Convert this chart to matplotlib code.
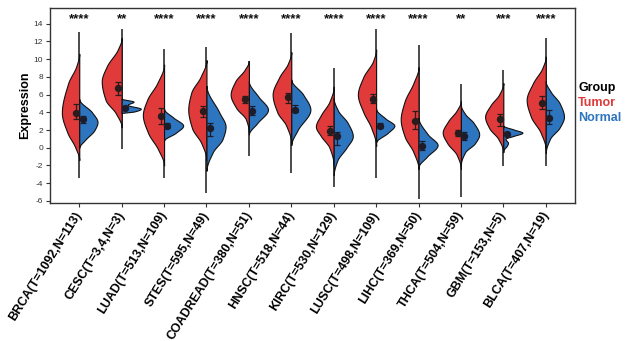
import numpy as np
import matplotlib
matplotlib.use("Agg")
import matplotlib.pyplot as plt

plt.rcParams['font.family'] = ['Liberation Sans', 'DejaVu Sans']

categories = ["BRCA(T=1092,N=113)", "CESC(T=3,4,N=3)", "LUAD(T=513,N=109)",
              "STES(T=595,N=49)", "COADREAD(T=380,N=51)", "HNSC(T=518,N=44)",
              "KIRC(T=530,N=129)", "LUSC(T=498,N=109)", "LIHC(T=369,N=50)",
              "THCA(T=504,N=59)", "GBM(T=153,N=5)", "BLCA(T=407,N=19)"]
stars = ["****", "**", "****", "****", "****", "****",
         "****", "****", "****", "**", "***", "****"]

# overall data range per cancer (thin centre line)
range_min = [-3.4, -0.1, -3.4, -5.1, -0.9, -2.8, -4.4, -3.4, -5.8, -5.6, -2.1, -2.1]
range_max = [13.1, 13.4, 11.2, 11.4, 9.8, 13.0, 9.0, 13.4, 11.6, 7.2, 8.8, 12.4]

# density profile of the Tumor half (expression level, half-width)
tumor_y = [
    [-1.4, 0.1, 1.7, 3.95, 7.3, 9.2, 10.6],
    [2.3, 3.9, 5.4, 7.5, 9.2, 11.1, 12.4],
    [-2.0, -0.2, 1.7, 3.7, 5.4, 7.3, 9.4],
    [-1.4, 0.5, 2.2, 4.3, 6.2, 8.0, 9.9],
    [1.7, 3.2, 4.5, 6.0, 7.5, 8.8, 9.8],
    [0.5, 2.5, 4.0, 6.0, 8.0, 9.5, 10.8],
    [-2.0, 0.0, 1.3, 2.4, 3.7, 5.2, 6.9],
    [0.2, 2.3, 4.0, 6.0, 8.0, 9.8, 11.1],
    [-2.4, -0.5, 1.3, 3.2, 5.2, 7.3, 9.1],
    [-2.4, -0.8, 0.5, 1.7, 3.0, 4.2, 5.3],
    [-0.5, 1.0, 2.2, 3.5, 4.8, 6.0, 7.3],
    [-0.2, 1.7, 3.5, 5.4, 7.3, 9.0, 10.3],
]
tumor_w = [
    [0, 0.10, 0.28, 0.41, 0.26, 0.07, 0],
    [0, 0.14, 0.38, 0.47, 0.35, 0.09, 0],
    [0, 0.14, 0.38, 0.50, 0.40, 0.16, 0],
    [0, 0.12, 0.34, 0.43, 0.36, 0.14, 0],
    [0, 0.07, 0.30, 0.43, 0.32, 0.10, 0],
    [0, 0.12, 0.33, 0.44, 0.28, 0.08, 0],
    [0, 0.10, 0.30, 0.42, 0.30, 0.10, 0],
    [0, 0.12, 0.30, 0.43, 0.30, 0.07, 0],
    [0, 0.12, 0.33, 0.42, 0.33, 0.12, 0],
    [0, 0.10, 0.32, 0.43, 0.30, 0.10, 0],
    [0, 0.12, 0.33, 0.43, 0.30, 0.10, 0],
    [0, 0.12, 0.35, 0.45, 0.30, 0.08, 0],
]
# density profile of the Normal half
normal_y = [
    [0.0, 0.9, 2.0, 2.9, 4.0, 5.5],
    [3.9, 4.1, 4.4, 4.85, 5.2, 5.55],
    [0.8, 1.7, 2.5, 3.4, 4.4],
    [-2.6, -0.5, 1.0, 2.4, 4.0, 7.0],
    [1.5, 2.8, 4.3, 5.8, 7.5],
    [0.3, 2.0, 4.3, 6.0, 7.7],
    [-3.1, -1.5, 0.0, 1.3, 2.8, 4.2, 5.6],
    [0.6, 1.7, 2.5, 3.3, 4.4],
    [-2.2, -1.0, 0.3, 1.5, 3.4],
    [-1.9, -0.5, 0.5, 1.5, 2.8, 3.8, 4.8],
    [-0.3, 0.2, 0.55, 1.0, 1.35, 1.7, 2.05, 2.5],
    [-0.6, 1.0, 2.3, 3.5, 5.0, 6.3, 7.5],
]
normal_w = [
    [0, 0.14, 0.36, 0.43, 0.30, 0],
    [0, 0.30, 0.45, 0.14, 0.28, 0],
    [0, 0.28, 0.45, 0.22, 0],
    [0, 0.15, 0.38, 0.45, 0.30, 0],
    [0, 0.20, 0.45, 0.22, 0],
    [0, 0.15, 0.45, 0.28, 0],
    [0, 0.08, 0.30, 0.45, 0.33, 0.10, 0],
    [0, 0.28, 0.43, 0.22, 0],
    [0, 0.20, 0.45, 0.22, 0],
    [0, 0.10, 0.33, 0.43, 0.30, 0.10, 0],
    [0, 0.08, 0.11, 0.05, 0.25, 0.45, 0.25, 0],
    [0, 0.10, 0.33, 0.43, 0.33, 0.12, 0],
]

# point summaries with error bars
tumor_point = [3.9, 6.7, 3.6, 4.2, 5.5, 5.7, 1.9, 5.5, 3.0, 1.65, 3.2, 5.1]
tumor_lo = [3.3, 6.0, 2.7, 3.5, 5.1, 5.1, 1.4, 5.1, 2.1, 1.3, 2.5, 4.4]
tumor_hi = [4.9, 7.4, 4.5, 4.7, 5.8, 6.2, 2.4, 6.1, 4.2, 2.0, 3.8, 5.8]
normal_point = [3.2, 4.5, 2.5, 2.2, 4.2, 4.3, 1.3, 2.5, 0.25, 1.3, 1.6, 3.4]
normal_lo = [2.75, 4.4, 2.2, 1.35, 3.7, 4.0, 0.3, 2.2, -0.2, 0.9, 1.5, 2.7]
normal_hi = [3.6, 4.6, 2.8, 2.75, 4.7, 4.8, 1.8, 2.8, 0.8, 1.8, 1.7, 4.3]

yticks = list(range(-6, 15, 2))

RED = '#E03A3A'
BLUE = '#2E75C0'


def pchip(xk, yk, x):
    xk = np.asarray(xk, float)
    yk = np.asarray(yk, float)
    h = np.diff(xk)
    d = np.diff(yk) / h
    m = np.zeros_like(yk)
    for i in range(1, len(xk) - 1):
        if d[i - 1] * d[i] > 0:
            w1 = 2 * h[i] + h[i - 1]
            w2 = h[i] + 2 * h[i - 1]
            m[i] = (w1 + w2) / (w1 / d[i - 1] + w2 / d[i])
    idx = np.clip(np.searchsorted(xk, x) - 1, 0, len(xk) - 2)
    t = (x - xk[idx]) / h[idx]
    h00 = 2 * t**3 - 3 * t**2 + 1
    h10 = t**3 - 2 * t**2 + t
    h01 = -2 * t**3 + 3 * t**2
    h11 = t**3 - t**2
    return (h00 * yk[idx] + h10 * h[idx] * m[idx] + h01 * yk[idx + 1]
            + h11 * h[idx] * m[idx + 1])


def stats_from(ys, ws):
    coords = np.linspace(ys[0], ys[-1], 300)
    vals = np.clip(pchip(ys, ws, coords), 0, None)
    return dict(coords=coords, vals=vals, mean=float(np.mean(ys)),
                median=float(np.median(ys)), min=ys[0], max=ys[-1]), 2 * max(ws)


fig = plt.figure(figsize=(6.25, 3.41), dpi=100)
ax = fig.add_axes([0.080, 0.405, 0.840, 0.572])

for i in range(len(categories)):
    ax.vlines(i, range_min[i], range_max[i], color='#1a1a1a', lw=1.1, zorder=1)
    for ys, ws, side, col in [(tumor_y[i], tumor_w[i], 'low', RED),
                              (normal_y[i], normal_w[i], 'high', BLUE)]:
        st, wd = stats_from(ys, ws)
        parts = ax.violin([st], positions=[i], widths=[wd], side=side,
                          showextrema=False, showmeans=False, showmedians=False)
        for b in parts['bodies']:
            b.set_facecolor(col)
            b.set_edgecolor('#111111')
            b.set_linewidth(0.8)
            b.set_alpha(1)
            b.set_zorder(2)
    ax.errorbar(i - 0.08, tumor_point[i],
                yerr=[[tumor_point[i] - tumor_lo[i]], [tumor_hi[i] - tumor_point[i]]],
                fmt='o', color='#2a1c1c', ms=4.3, capsize=2.2, elinewidth=0.9,
                capthick=0.9, zorder=4)
    ax.errorbar(i + 0.08, normal_point[i],
                yerr=[[normal_point[i] - normal_lo[i]], [normal_hi[i] - normal_point[i]]],
                fmt='o', color='#1c1c2a', ms=4.3, capsize=2.2, elinewidth=0.9,
                capthick=0.9, zorder=4)
    ax.text(i, 14.5, stars[i], ha='center', va='center', fontsize=9.5,
            fontweight='bold', color='#111111')

ax.set_xlim(-0.69, 11.69)
ax.set_ylim(-6.23, 15.8)
ax.set_yticks(yticks)
ax.set_yticklabels([str(v) for v in yticks], fontsize=6)
ax.set_xticks(range(len(categories)))
ax.set_xticklabels(categories, rotation=58, ha='right', va='center',
                   rotation_mode='anchor', fontsize=8.9, fontweight='bold')
ax.tick_params(axis='both', length=3, width=0.8, colors='#333333', pad=2)
ax.tick_params(axis='x', labelcolor='black', pad=4)
ax.tick_params(axis='y', labelcolor='#333333')
for s in ax.spines.values():
    s.set_linewidth(1.0)
    s.set_color('#333333')
ax.set_ylabel('Expression', fontsize=9, fontweight='bold', labelpad=1.5)

fig.text(0.925, 0.742, 'Group', fontsize=9, fontweight='bold', color='black', va='center')
fig.text(0.925, 0.698, 'Tumor', fontsize=9, fontweight='bold', color=RED, va='center')
fig.text(0.925, 0.654, 'Normal', fontsize=9, fontweight='bold', color=BLUE, va='center')

fig.savefig('out.png', dpi=100)
